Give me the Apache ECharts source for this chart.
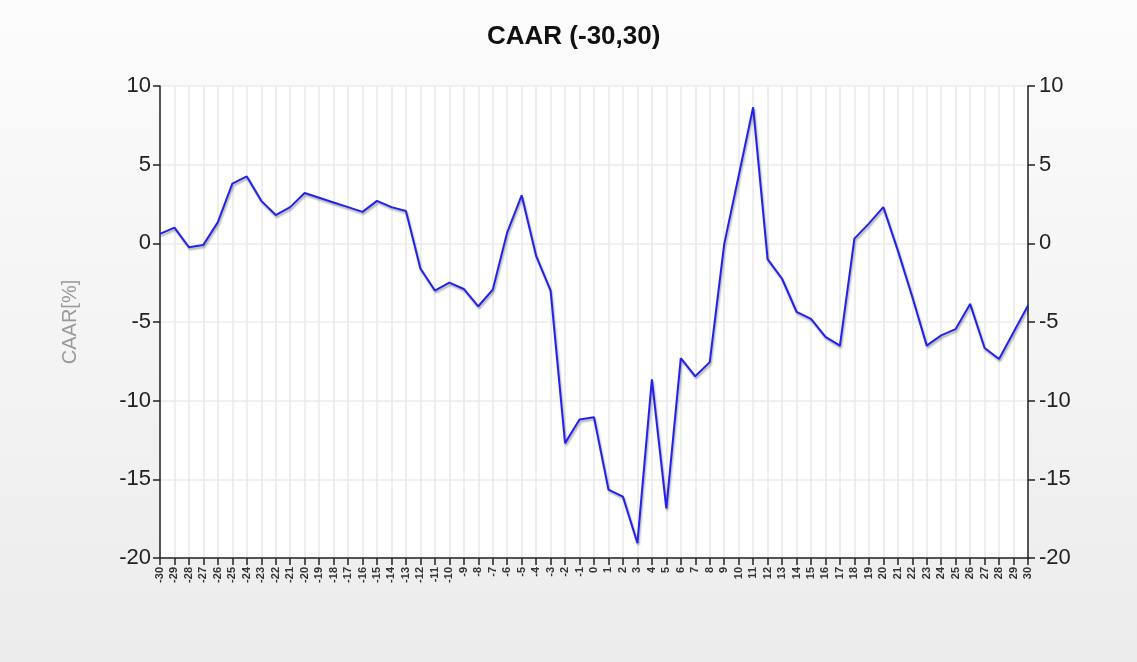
<!DOCTYPE html>
<html>
<head>
<meta charset="utf-8">
<script src="https://cdn.jsdelivr.net/npm/echarts@6/dist/echarts.min.js"></script>
<style>
  html, body { margin: 0; padding: 0; }
  #chart { width: 1137px; height: 662px; }
</style>
</head>
<body>
<div id="chart"></div>
<script>
// event window days -30..30
const days = []
for (let d = -30; d <= 30; d++) days.push(String(d))

// CAAR values (%)
const caar = [
  0.6, 1.0, -0.25, -0.1, 1.35, 3.8, 4.25, 2.7, 1.8, 2.3,
  3.2, 2.9, 2.6, 2.3, 2.0, 2.7, 2.3, 2.05, -1.6, -3.0,
  -2.5, -2.9, -4.0, -2.95, 0.7, 3.05, -0.8, -3.0, -12.7, -11.2,
  -11.05, -15.65, -16.1, -19.05, -8.65, -16.85, -7.3, -8.45, -7.55, -0.05,
  4.3, 8.65, -1.0, -2.25, -4.35, -4.8, -5.95, -6.5, 0.3, 1.25,
  2.3, -0.45, -3.4, -6.5, -5.85, -5.45, -3.85, -6.65, -7.35, -5.65,
  -3.95
]

const yTicks = { min: -20, max: 10, interval: 5 }

const font = 'Liberation Sans, Arial, sans-serif'
const chart = echarts.init(document.getElementById('chart'))

const yAxisBase = {
  type: 'value',
  min: yTicks.min,
  max: yTicks.max,
  interval: yTicks.interval,
  axisLine: { show: true, onZero: false, lineStyle: { color: '#222', width: 1.5 } },
  axisTick: { show: true, inside: false, length: 7, lineStyle: { color: '#222', width: 1.5 } },
  axisLabel: {
    color: '#222',
    fontSize: 22,
    fontFamily: font,
    margin: 9
  }
}

const option = {
  backgroundColor: {
    type: 'linear', x: 0, y: 0, x2: 0, y2: 1,
    colorStops: [
      { offset: 0, color: '#fcfcfc' },
      { offset: 1, color: '#ececec' }
    ]
  },
  title: {
    text: 'CAAR (-30,30)',
    left: 482,
    top: 19,
    textStyle: {
      fontSize: 26,
      fontWeight: 'bold',
      color: '#111',
      fontFamily: font
    }
  },
  grid: {
    left: 160,
    right: 109,
    top: 86,
    bottom: 104,
    show: true,
    backgroundColor: '#fff',
    borderWidth: 0
  },
  xAxis: {
    type: 'category',
    data: days,
    boundaryGap: false,
    axisLine: { show: true, onZero: false, lineStyle: { color: '#222', width: 1.5 } },
    axisTick: { show: true, interval: 0, length: 7, lineStyle: { color: '#222', width: 1.5 } },
    axisLabel: {
      interval: 0,
      rotate: 90,
      fontSize: 11,
      fontWeight: 'bold',
      color: '#333',
      margin: 9,
      fontFamily: font
    },
    splitLine: { show: true, interval: 0, lineStyle: { color: '#e9e9e9', width: 1.5 } }
  },
  yAxis: [
    Object.assign({}, yAxisBase, {
      position: 'left',
      name: 'CAAR[%]',
      nameLocation: 'middle',
      nameGap: 80,
      nameTextStyle: {
        color: '#999',
        fontSize: 20,
        fontFamily: font
      },
      splitLine: { show: true, lineStyle: { color: '#ececec', width: 1.5 } }
    }),
    Object.assign({}, yAxisBase, {
      position: 'right',
      axisLabel: Object.assign({}, yAxisBase.axisLabel, { margin: 11 }),
      splitLine: { show: false }
    })
  ],
  series: [
    {
      type: 'line',
      data: caar,
      symbol: 'none',
      yAxisIndex: 0,
      lineStyle: {
        color: '#2222ee',
        width: 2,
        shadowColor: 'rgba(0,0,0,0.35)',
        shadowBlur: 2,
        shadowOffsetX: 1,
        shadowOffsetY: 2
      },
      itemStyle: { color: '#2222ee' },
      animation: false
    }
  ]
}

chart.setOption(option)
</script>
</body>
</html>
